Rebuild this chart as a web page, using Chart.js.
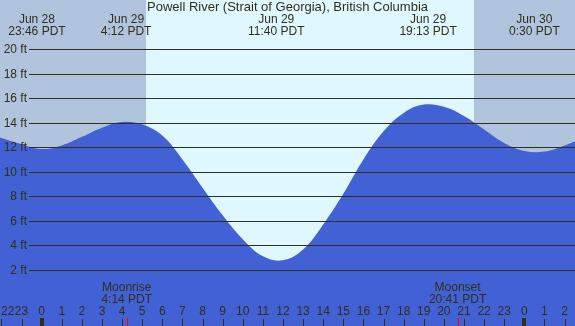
<!DOCTYPE html>
<html>
<head>
<meta charset="utf-8">
<script src="https://cdn.jsdelivr.net/npm/chart.js@4/dist/chart.umd.min.js"></script>
<style>
    html, body { margin: 0; padding: 0; background: #dff7ff; }
    #tide-chart { display: block; }
</style>
</head>
<body>
<canvas id="tide-chart" width="575" height="326"></canvas>
<script>
// Часы относительно Jun 29 00:00 PDT и высота прилива в футах
const tideHours = [-2.07, -1, 0, 1, 2, 3, 4, 5, 6, 7, 8, 9, 10, 11, 12, 13, 14, 15, 16, 17, 18, 19, 20, 21, 22, 23, 24, 25, 26, 26.52];
const tideHeights = [12.8, 12.25, 11.85, 12.15, 12.85, 13.6, 14.07, 13.85, 12.95, 11.0, 8.7, 6.45, 4.5, 3.1, 2.78, 3.65, 5.7, 8.2, 11.0, 13.3, 14.8, 15.48, 15.3, 14.55, 13.45, 12.35, 11.7, 11.65, 12.15, 12.5];

// Подписи экстремумов сверху
const extremeHours = [-0.233, 4.2, 11.667, 19.217, 24.5];
const extremeDates = ['Jun 28', 'Jun 29', 'Jun 29', 'Jun 29', 'Jun 30'];
const extremeTimes = ['23:46 PDT', '4:12 PDT', '11:40 PDT', '19:13 PDT', '0:30 PDT'];

// Луна
const moonHours = [4.233, 20.683];
const moonEvents = ['Moonrise', 'Moonset'];
const moonTimes = ['4:14 PDT', '20:41 PDT'];

// День: восход и закат
const sunHours = [5.17, 21.5];

const feetTicks = [2, 4, 6, 8, 10, 12, 14, 16, 18, 20];
const hourTicks = [-2, -1, 0, 1, 2, 3, 4, 5, 6, 7, 8, 9, 10, 11, 12, 13, 14, 15, 16, 17, 18, 19, 20, 21, 22, 23, 24, 25, 26];

const chartTitle = 'Powell River (Strait of Georgia), British Columbia';

const xMin = -2.07, xMax = 26.52;
const yMin = -2.59, yMax = 24.02;

const TEXT_COLOR = '#30301a';
const NIGHT_COLOR = '#b0c4de';
const DAY_COLOR = '#dff7ff';
const WATER_COLOR = '#4161d4';
const FONT = '12px "Liberation Sans", Arial, sans-serif';
const TITLE_FONT = '13px "Liberation Sans", Arial, sans-serif';

// Фон: ночь / день
const backgroundPlugin = {
    id: 'dayNight',
    beforeDatasetsDraw(chart) {
        const { ctx, chartArea, scales } = chart;
        const x = scales.x;
        const sunrise = Math.round(x.getPixelForValue(sunHours[0]));
        const sunset = Math.round(x.getPixelForValue(sunHours[1]));
        ctx.save();
        ctx.fillStyle = DAY_COLOR;
        ctx.fillRect(chartArea.left, chartArea.top, chartArea.width, chartArea.height);
        ctx.fillStyle = NIGHT_COLOR;
        ctx.fillRect(chartArea.left, chartArea.top, sunrise - chartArea.left, chartArea.height);
        ctx.fillRect(sunset, chartArea.top, chartArea.right - sunset, chartArea.height);
        ctx.restore();
    }
};

// Сетка, подписи и отметки поверх воды
const overlayPlugin = {
    id: 'overlay',
    afterDatasetsDraw(chart) {
        const { ctx, chartArea, scales } = chart;
        const x = scales.x, y = scales.y;
        ctx.save();
        ctx.font = FONT;
        ctx.fillStyle = TEXT_COLOR;
        ctx.strokeStyle = TEXT_COLOR;
        ctx.lineWidth = 1;

        // горизонтальные линии и подписи футов
        ctx.textAlign = 'right';
        ctx.textBaseline = 'middle';
        feetTicks.forEach(ft => {
            const py = Math.round(y.getPixelForValue(ft)) + 0.5;
            ctx.beginPath();
            ctx.moveTo(29, py);
            ctx.lineTo(chartArea.right, py);
            ctx.stroke();
            ctx.fillText(ft + ' ft', 27, py);
        });

        // заголовок
        ctx.textAlign = 'center';
        ctx.font = TITLE_FONT;
        ctx.fillText(chartTitle, (chartArea.left + chartArea.right) / 2, 7);
        ctx.font = FONT;

        // экстремумы
        extremeHours.forEach((h, i) => {
            const px = x.getPixelForValue(h);
            ctx.fillText(extremeDates[i], px, 19.5);
            ctx.fillText(extremeTimes[i], px, 32);
        });

        // луна
        moonHours.forEach((h, i) => {
            const px = x.getPixelForValue(h);
            ctx.fillText(moonEvents[i], px, 287.5);
            ctx.fillText(moonTimes[i], px, 299.5);
        });

        // часы внизу
        hourTicks.forEach(h => {
            const px = x.getPixelForValue(h);
            const label = String(((h % 24) + 24) % 24);
            const w = ctx.measureText(label).width;
            const lx = Math.max(px, 1 + w / 2);
            ctx.fillText(label, lx, 312);
            if (h % 24 === 0) {
                ctx.fillRect(Math.round(px) - 2, 318, 4, 8);
            } else {
                ctx.fillRect(Math.round(px), 319, 1, 7);
            }
        });

        // красные отметки луны
        ctx.fillStyle = '#ff0000';
        moonHours.forEach(h => {
            ctx.fillRect(Math.round(x.getPixelForValue(h)), 318, 1, 8);
        });
        ctx.restore();
    }
};

function buildTideChart(elementId) {
    const el = document.getElementById(elementId);
    const ctx = el.getContext('2d');
    const points = tideHours.map((h, i) => ({ x: h, y: tideHeights[i] }));

    el.chart = new Chart(ctx, {
        type: 'line',
        data: {
            datasets: [{
                data: points,
                borderWidth: 0,
                borderColor: WATER_COLOR,
                backgroundColor: WATER_COLOR,
                pointRadius: 0,
                fill: 'start',
                tension: 0.4
            }]
        },
        options: {
            responsive: false,
            animation: false,
            devicePixelRatio: 1,
            layout: { padding: 0 },
            plugins: {
                legend: { display: false },
                tooltip: { enabled: false }
            },
            scales: {
                x: { type: 'linear', min: xMin, max: xMax, display: false },
                y: { type: 'linear', min: yMin, max: yMax, display: false }
            }
        },
        plugins: [backgroundPlugin, overlayPlugin]
    });
}

buildTideChart('tide-chart');
</script>
</body>
</html>
